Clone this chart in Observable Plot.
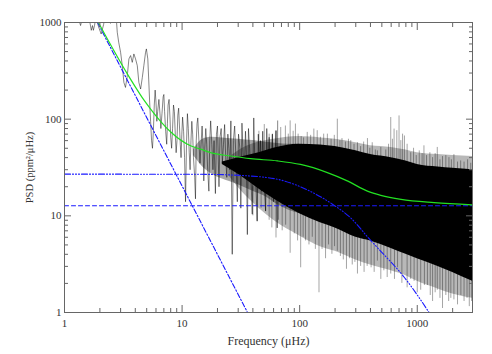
<!DOCTYPE html>
<html><head><meta charset="utf-8">
<script src="https://cdn.jsdelivr.net/npm/d3@7"></script>
<script src="https://cdn.jsdelivr.net/npm/@observablehq/plot@0.6"></script>
<style>
html,body{margin:0;padding:0;background:#fff;}
#chart svg{display:block;font-family:"Liberation Serif","DejaVu Serif",serif !important;}
#chart svg text{font-family:"Liberation Serif","DejaVu Serif",serif !important;}
</style>
</head><body><div id="chart"></div>
<script>
// Axis ticks
const xMajor = [1, 10, 100, 1000];
const xMinor = [2,3,4,5,6,7,8,9,20,30,40,50,60,70,80,90,200,300,400,500,600,700,800,900,2000];
const yMajor = [1, 10, 100, 1000];
const yMinor = [2,3,4,5,6,7,8,9,20,30,40,50,60,70,80,90,200,300,400,500,600,700,800,900];

// Observed spectrum, low-frequency part (frequency in µHz, PSD in ppm²/µHz)
const lineF = [1.00,1.15,1.28,1.33,1.37,1.41,1.5,1.58,1.64,1.69,1.73,1.76,1.8,1.85,1.95,2.05,2.15,2.25,2.35,2.46,2.55,2.7,2.81,2.89,3.0,3.1,3.2,3.3,3.42,3.53,3.65,3.77,3.89,4.02,4.16,4.29,4.44,4.59,4.73,4.89,4.97,5.11,5.2,5.3,5.4,5.5,5.6,5.7,5.8,5.9,6.0,6.1,6.2,6.35,6.5,6.6,6.75,6.9,7.0,7.1,7.25,7.4,7.5,7.6,7.75,7.9,8.0,8.15,8.3,8.45,8.6,8.75,8.9,9.05,9.2,9.35,9.5,9.65,9.8,9.95,10.1,10.3,10.5,10.7,10.9,11.1,11.3,11.5,11.7,11.9,12.1,12.3,12.5,12.8,13.0,13.2,13.4,13.6,13.9,14.2,14.5,14.8,15.1,15.3,15.6,15.9,16.2,16.5,16.9,17.2,17.5,17.9,18.3,18.7,19.2,19.6,20.0,20.6,21.0,21.5,22.0,22.5,23.0,23.5,24.0,24.5,25.0,25.5,26.0,26.7,27.3,28.0,28.7,29.5,30.2,31.0,31.6,32.3,33.0,33.8,34.6,35.2,35.9,36.7,37.5,38.5,39.5,40.7,41.5,42.5,43.5,44.5,45.5,46.5,47.5,48.5,49.5,51.3,52.5,53.5,55.0,56.5,58.6,60.0,62.9,64.4,65.0];
const lineP = [1500,1900,1250,1050,930,1080,1500,1300,1020,830,930,830,930,1150,900,760,950,1300,1150,980,1300,1600,793,625,491,358,240,213,282,420,455,387,473,420,358,240,205,270,358,491,533,420,260,150,95,60,50,75,140,200,150,95,120,160,110,80,115,170,180,120,75,55,90,140,160,100,65,50,80,140,120,70,45,60,110,130,85,55,40,70,105,75,40,14,55,114,80,45,30,60,95,70,40,25,15,60,90,103,60,35,55,85,50,23,50,80,55,30,18,60,96,55,30,60,17,70,85,20,65,80,35,55,88,40,25,70,50,30,96,4,60,85,40,14,70,50,12,91,45,25,75,45,6.4,80,50,25,10.4,103,40,20,8.8,70,30,60,18,75,25,11.2,80,30,65,20,70,14,76,7.5,96];

// Dense part of the spectrum: grey mid band, grey fringe and solid black core
const midF  = [12.5, 15, 18, 22, 30, 40, 50, 65, 80, 100];
const midLo = [42, 32, 27, 24, 21, 18, 16, 13, 11.5, 10.5];
const midHi = [48, 62, 65, 64, 62, 60, 58, 56, 55, 55];
const fringeF  = [25, 35, 45, 60, 100, 150, 200, 300, 400, 600, 800, 1000, 1500, 2000, 2950];
const fringeLo = [26, 16, 12, 9, 6.2, 4.8, 4.3, 3.5, 3.1, 2.7, 2.4, 2.1, 1.75, 1.55, 1.4];
const fringeHi = [40, 52, 58, 62, 66, 64, 62, 57, 53, 51, 48, 45, 43, 42, 41];
const coreF  = [22, 30, 45, 60, 100, 150, 200, 300, 400, 600, 800, 1000, 1500, 2000, 2950];
const coreLo = [34, 27, 19, 15, 10.5, 8.5, 7.5, 6.0, 5.5, 4.6, 4.0, 3.6, 3.0, 2.6, 2.1];
const coreHi = [36, 40, 45, 50, 55, 54, 52, 47, 43, 40, 37, 34, 32, 31, 30];

// Individual spikes sticking out of the dense band
const upF = [45,50,55,58.6,62.9,69,75.6,80,83,88,92,97,103,108,116,124,132,141,150,160,172,185,197,209,220,229,245,260,272,290,310,330,350,377,395,414,440,458,490,540,570,595,615,635,670,700,725,750,778,820,880,930,980,1040,1100,1140,1200,1280,1350,1420,1480,1560,1640,1750,1860,1950,2050,2200,2340,2500,2680,2850];
const upP = [75,88,70,70,76,82,85,70,96,75,89,70,66,64,73,68,79,76,65,70,70,62,68,100,60,63,58,62,60,55,57,52,58,63,50,57,48,47,51,48,55,104,62,79,76,108,60,70,67,55,45,50,42,47,44,53,42,45,40,44,51,38,41,42,40,38,43,36,37,36,38,35];
const downF = [40,43.5,47,51.3,55,58,62.9,66,71,76,83,90,96,102,107,112,120,128,136,146,155,166,176,188,198,209,222,235,250,265,280,295,310,330,353,375,405,430,458,490,520,555,595,640,680,740,820,880,940,1000,1070,1150,1220,1290,1350,1420,1480,1560,1640,1750,1850,1930,2050,2200,2350,2500,2650,2770,2900];
const downP = [10,8.8,12,11.2,9,7.5,5.9,9,7,8,4.1,6.5,5.5,2.9,6,5.5,5,6,4.5,1.6,4.5,3.6,5,4,4.8,4.3,3.8,3.5,2.8,3.6,3.1,3.3,2.5,3.0,2.6,3.0,2.9,2.6,3.4,2.2,2.7,2.3,2.5,2.2,2.9,2.0,1.8,2.2,2.1,1.6,1.7,1.9,1.9,1.5,1.3,1.6,1.7,1.4,1.1,1.5,1.3,1.4,1.35,1.2,1.5,1.3,1.4,1.15,1.3];

// Fitted model components
const fitF = [1.85,2.0,2.31,2.7,3.42,4.0,4.73,5.4,6.56,7.97,11.8,14.4,17.5,25.9,38.2,64.8,101.7,172,254,377,490,728,1390,2950];
const fitP = [1118,937,679,483,294,216,158,127,95,74,53,49,45,41.6,39,37,34,28,23,18,16.3,14.8,13.7,13.0];
const harveyF = [1,14.4,38.2,73.5,120,190,272,400,490,778,1260,1400];
const harveyP = [27,26.9,25.8,23,18.2,13.2,9.5,5.6,4.3,2.3,1.0,0.82];
const powerF = [1.91, 36];
const powerP = [1000, 1];
const noiseF = [1, 2950];
const noiseP = [12.7, 12.7];

const zip = (f, a, b) => f.map((v, i) => ({f: v, a: a[i], b: b ? b[i] : undefined}));
const line = zip(lineF, lineP), mid = zip(midF, midLo, midHi), core = zip(coreF, coreLo, coreHi);
const fringe = zip(fringeF, fringeLo, fringeHi);
const ups = zip(upF, upP), downs = zip(downF, downP);
const fit = zip(fitF, fitP), harvey = zip(harveyF, harveyP), power = zip(powerF, powerP), noise = zip(noiseF, noiseP);
const blank = () => "";
const SPIKE_BASE = 20;

const chart = Plot.plot({
  width: 492, height: 354,
  marginLeft: 64, marginRight: 20, marginTop: 22, marginBottom: 42,
  style: {fontFamily: "Liberation Serif, serif", fontSize: "11px", color: "#333", background: "#fff"},
  x: {type: "log", domain: [1, 2950]},
  y: {type: "log", domain: [1, 1000]},
  marks: [
    Plot.areaY(mid, {x: "f", y1: "a", y2: "b", fill: "#000", fillOpacity: 0.35, curve: "monotone-x", clip: true}),
    Plot.areaY(fringe, {x: "f", y1: "a", y2: "b", fill: "#000", fillOpacity: 0.28, curve: "monotone-x", clip: true}),
    Plot.ruleX(ups, {x: "f", y1: SPIKE_BASE, y2: "a", stroke: "#000", strokeOpacity: 0.45, strokeWidth: 0.8, clip: true}),
    Plot.ruleX(downs, {x: "f", y1: "a", y2: SPIKE_BASE, stroke: "#000", strokeOpacity: 0.45, strokeWidth: 0.8, clip: true}),
    Plot.areaY(core, {x: "f", y1: "a", y2: "b", fill: "#000", curve: "monotone-x", clip: true}),
    Plot.line(line, {x: "f", y: "a", stroke: "#000", strokeOpacity: 0.6, strokeWidth: 0.8, clip: true}),
    Plot.line(noise, {x: "f", y: "a", stroke: "#1a1aff", strokeWidth: 1.1, strokeDasharray: "4,3", clip: true}),
    Plot.line(harvey, {x: "f", y: "a", stroke: "#1a1aff", strokeWidth: 1.1, strokeDasharray: "6,2,1,2,1,2,1,2", curve: "monotone-x", clip: true}),
    Plot.line(power, {x: "f", y: "a", stroke: "#1a1aff", strokeWidth: 1.1, strokeDasharray: "5,2,1.5,2", clip: true}),
    Plot.line(fit, {x: "f", y: "a", stroke: "#22e022", strokeWidth: 1.2, curve: "monotone-x", clip: true}),
    Plot.frame({stroke: "#666"}),
    // bottom axis: labels + inward ticks
    Plot.axisX(xMajor, {anchor: "bottom", tickSize: 0, tickPadding: 7, tickFormat: d => String(d), label: null, fontSize: 11}),
    Plot.axisX({anchor: "bottom", ticks: [], label: "Frequency (μHz)", labelAnchor: "center", labelArrow: "none", labelOffset: 32, fontSize: 12}),
    Plot.axisX(xMajor, {anchor: "bottom", tickSize: -7, tickFormat: blank, label: null, stroke: "#666"}),
    Plot.axisX(xMinor, {anchor: "bottom", tickSize: -4, tickFormat: blank, label: null, stroke: "#666"}),
    Plot.axisX(xMajor, {anchor: "top", tickSize: -7, tickFormat: blank, label: null, stroke: "#666"}),
    Plot.axisX(xMinor, {anchor: "top", tickSize: -4, tickFormat: blank, label: null, stroke: "#666"}),
    // left axis
    Plot.axisY(yMajor, {anchor: "left", tickSize: 0, tickPadding: 3, tickFormat: d => String(d), label: null, fontSize: 11}),
    Plot.axisY({anchor: "left", ticks: [], label: "PSD (ppm²/μHz)", labelAnchor: "center", labelArrow: "none", labelOffset: 39, fontSize: 10.5}),
    Plot.axisY(yMajor, {anchor: "left", tickSize: -7, tickFormat: blank, label: null, stroke: "#666"}),
    Plot.axisY(yMinor, {anchor: "left", tickSize: -4, tickFormat: blank, label: null, stroke: "#666"}),
    Plot.axisY(yMajor, {anchor: "right", tickSize: -7, tickFormat: blank, label: null, stroke: "#666"}),
    Plot.axisY(yMinor, {anchor: "right", tickSize: -4, tickFormat: blank, label: null, stroke: "#666"})
  ]
});
document.getElementById("chart").appendChild(chart);
</script>
</body></html>
